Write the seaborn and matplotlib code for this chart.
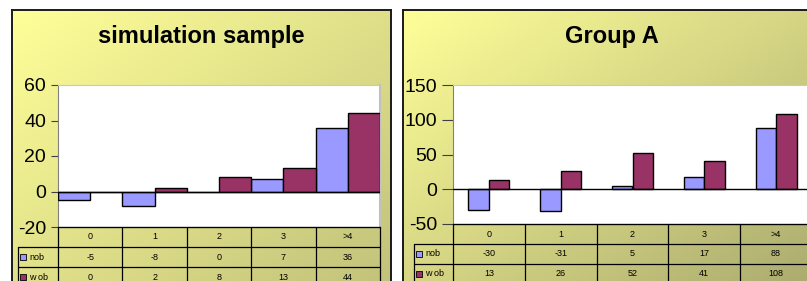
import numpy as np
import pandas as pd
import matplotlib.pyplot as plt
import matplotlib.colors as mcolors
import seaborn as sns

# --- data ---
categories = ["0", "1", "2", "3", ">4"]
series_names = ["nob", "wob"]
sim_nob = [-5, -8, 0, 7, 36]
sim_wob = [0, 2, 8, 13, 44]
grp_nob = [-30, -31, 5, 17, 88]
grp_wob = [13, 26, 52, 41, 108]

COLORS = {"nob": "#9999FF", "wob": "#993366"}
W, H = 807, 281

sns.set_style("white")
plt.rcParams["font.family"] = ["Liberation Sans", "DejaVu Sans"]
plt.rcParams["axes.unicode_minus"] = False
plt.rcParams["text.color"] = "black"
plt.rcParams["ytick.color"] = "black"
plt.rcParams["ytick.labelcolor"] = "black"


def rect(x0, y0, x1, y1):
    # pixel box (top-left origin) -> figure rect
    return [x0 / W, 1 - y1 / H, (x1 - x0) / W, (y1 - y0) / H]


def gradient_bg(fig, box, c0, c1):
    ax = fig.add_axes(rect(*box), zorder=0)
    n = 200
    u, v = np.meshgrid(np.linspace(0, 1, n), np.linspace(0, 1, n))
    t = (u + v) / 2
    a = np.array(mcolors.to_rgb(c0))
    b = np.array(mcolors.to_rgb(c1))
    img = a[None, None, :] * (1 - t[..., None]) + b[None, None, :] * t[..., None]
    ax.imshow(img, extent=[0, 1, 0, 1], aspect="auto", origin="upper")
    ax.set_xticks([])
    ax.set_yticks([])
    for s in ax.spines.values():
        s.set_color("#1a1a1a")
        s.set_linewidth(1.4)
    return ax


def draw_panel(fig, panel_box, plot_box, title, nob, wob, ylim, yticks, bar_width,
               legend_px, c_end, tick_len):
    gradient_bg(fig, panel_box, "#FFFF99", c_end)
    px0, py0, px1, py1 = plot_box
    fig.text((panel_box[0] + panel_box[2]) / 2 / W, 1 - 36 / H, title,
             ha="center", va="center", fontsize=17, fontweight="bold")

    df = pd.DataFrame({
        "cat": categories * 2,
        "series": ["nob"] * len(categories) + ["wob"] * len(categories),
        "val": nob + wob,
    })
    ax = fig.add_axes(rect(px0, py0, px1, py1), zorder=2)
    ax.set_facecolor("white")
    sns.barplot(data=df, x="cat", y="val", hue="series", palette=COLORS,
                width=bar_width, edgecolor="black", linewidth=1.0, saturation=1,
                legend=False, ax=ax, zorder=3)
    ax.axhline(0, color="black", linewidth=1.0, zorder=4)
    ax.set_xlim(-0.5, len(categories) - 0.5)
    ax.set_ylim(*ylim)
    ax.set_yticks(yticks)
    ax.set_xticks([])
    ax.set_xlabel("")
    ax.set_ylabel("")
    ax.tick_params(axis="y", direction="out", length=tick_len, width=0.8,
                   color="#404040", labelsize=14, pad=3.5, left=True)
    ax.spines["left"].set_color("#808080")
    ax.spines["top"].set_color("#c8c8c8")
    ax.spines["right"].set_color("#c0c0c0")
    ax.spines["right"].set_linewidth(1.5)
    ax.spines["bottom"].set_color("black")

    # data table under the plot
    row_h = 20
    tax = fig.add_axes(rect(px0, py1, px1, py1 + 3 * row_h), zorder=2)
    tax.set_xlim(-0.5, len(categories) - 0.5)
    tax.set_ylim(3, 0)
    tax.axis("off")
    cat_px = (px1 - px0) / len(categories)
    leg_w = legend_px / cat_px
    xl = -0.5 - leg_w
    xr = len(categories) - 0.5
    lk = dict(color="black", linewidth=0.9, clip_on=False)
    for r in (1, 2, 3):
        tax.plot([xl, xr], [r, r], **lk)
    tax.plot([-0.5, xr], [0, 0], **lk)
    for i in range(len(categories) + 1):
        tax.plot([i - 0.5, i - 0.5], [0, 3], **lk)
    tax.plot([xl, xl], [1, 3], **lk)
    fs = 6.5
    for i, c in enumerate(categories):
        tax.text(i, 0.5, c, ha="center", va="center", fontsize=fs, clip_on=False)
        tax.text(i, 1.5, str(nob[i]), ha="center", va="center", fontsize=fs, clip_on=False)
        tax.text(i, 2.5, str(wob[i]), ha="center", va="center", fontsize=fs, clip_on=False)
    for r, name in zip((1.5, 2.5), series_names):
        tax.plot([xl + 5 / cat_px], [r], marker="s", markersize=3.8,
                 markerfacecolor=COLORS[name], markeredgecolor="black",
                 markeredgewidth=0.6, linestyle="none", clip_on=False)
        label = "w ob" if name == "wob" else name
        tax.text(xl + 11 / cat_px, r, label, ha="left", va="center",
                 fontsize=fs, clip_on=False)


fig = plt.figure(figsize=(W / 100, H / 100), dpi=100)
fig.patch.set_facecolor("white")

draw_panel(fig, (12, 10, 391, 300), (58, 85, 380, 227), "simulation sample",
           sim_nob, sim_wob, (-20, 60), [-20, 0, 20, 40, 60], 1.0, 40, "#C0C07A", 5)
draw_panel(fig, (403, 10, 820, 300), (453, 85, 812, 224), "Group A",
           grp_nob, grp_wob, (-50, 150), [-50, 0, 50, 100, 150], 0.57, 39, "#A8A86E", 8)

fig.savefig("out.png", dpi=100)
